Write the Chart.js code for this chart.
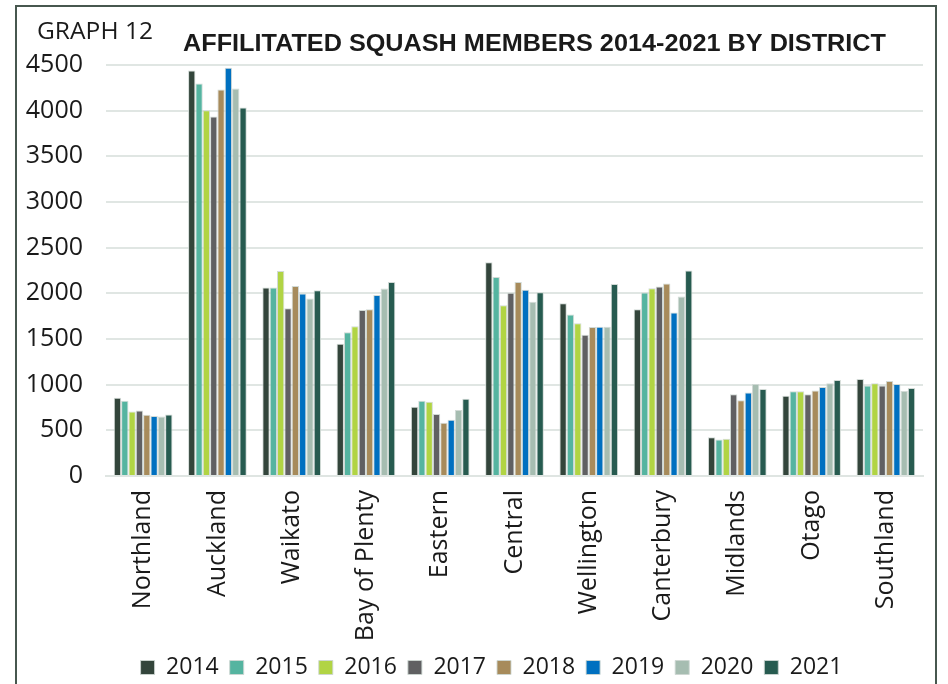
<!DOCTYPE html>
<html>
<head>
<meta charset="utf-8">
<script src="https://cdn.jsdelivr.net/npm/chart.js@4.4.0/dist/chart.umd.min.js"></script>
<style>
  html, body { margin: 0; padding: 0; background: #ffffff; }
  #wrap { position: relative; width: 948px; height: 684px; overflow: hidden; }
  #frame { position: absolute; left: 15px; top: 5px; width: 922px; height: 720px;
           border: 2px solid #47574f; box-sizing: border-box; }
  canvas { position: absolute; left: 0; top: 0; }
</style>
</head>
<body>
<div id="wrap">
  <div id="frame"></div>
  <canvas id="c" width="948" height="684"></canvas>
</div>
<script>
const districts = ["Northland", "Auckland", "Waikato", "Bay of Plenty", "Eastern", "Central",
                   "Wellington", "Canterbury", "Midlands", "Otago", "Southland"];
const years = ["2014", "2015", "2016", "2017", "2018", "2019", "2020", "2021"];
const v2014 = [858, 4441, 2065, 1449, 759, 2340, 1892, 1826, 425, 880, 1063];
const v2015 = [825, 4298, 2065, 1573, 825, 2178, 1767, 2009, 400, 928, 990];
const v2016 = [707, 4004, 2244, 1639, 814, 1870, 1672, 2057, 407, 928, 1016];
const v2017 = [718, 3935, 1837, 1818, 678, 2006, 1547, 2075, 895, 895, 990];
const v2018 = [671, 4232, 2079, 1826, 583, 2123, 1632, 2108, 829, 935, 1041];
const v2019 = [657, 4470, 1999, 1983, 616, 2039, 1635, 1789, 913, 975, 1008];
const v2020 = [652, 4243, 1944, 2054, 722, 1907, 1635, 1965, 1008, 1016, 931];
const v2021 = [674, 4034, 2035, 2123, 847, 2013, 2101, 2251, 953, 1052, 964];
const yTicks = [0, 500, 1000, 1500, 2000, 2500, 3000, 3500, 4000, 4500];
const graphLabel = "GRAPH 12";
const titleText = "AFFILITATED SQUASH MEMBERS 2014-2021 BY DISTRICT";

const seriesValues = [v2014, v2015, v2016, v2017, v2018, v2019, v2020, v2021];
const colors = ["#33453b", "#55b4a0", "#b1d444", "#606062", "#a78b5b", "#0070c0", "#a6bdb1", "#275b50"];

const FONT = "'Open Sans', 'DejaVu Sans', sans-serif";

const titlePlugin = {
  id: 'titles',
  afterLayout(chart) {
    const lg = chart.legend;
    if (lg) { lg.left += 30; lg.right += 30; lg.top += 5; lg.bottom += 5; }
    const xs = chart.scales.x;
    if (xs) { xs.bottom = chart.height; }
  },
  afterDraw(chart) {
    const ctx = chart.ctx;
    ctx.save();
    ctx.fillStyle = '#1a1a1a';
    ctx.textBaseline = 'alphabetic';
    ctx.textAlign = 'left';
    ctx.font = "23px 'Open Sans', 'Liberation Sans', sans-serif";
    const gw = ctx.measureText(graphLabel).width;
    ctx.save();
    ctx.translate(37, 39);
    ctx.scale(116 / gw, 1);
    ctx.fillText(graphLabel, 0, 0);
    ctx.restore();
    ctx.font = "bold 23px 'Liberation Sans', Arial, sans-serif";
    const w = ctx.measureText(titleText).width;
    ctx.translate(183, 51);
    ctx.scale(703 / w, 1);
    ctx.fillText(titleText, 0, 0);
    ctx.restore();
  }
};

new Chart(document.getElementById('c'), {
  type: 'bar',
  data: {
    labels: districts,
    datasets: years.map((y, i) => ({
      label: y,
      data: seriesValues[i],
      backgroundColor: colors[i],
      borderColor: 'rgba(205,214,210,0.9)',
      borderWidth: 1,
      categoryPercentage: 0.79,
      barPercentage: 1.0
    }))
  },
  options: {
    responsive: false,
    animation: false,
    devicePixelRatio: 1,
    layout: { padding: { left: 0, right: 25, top: 65, bottom: 0 } },
    plugins: {
      legend: {
        position: 'bottom',
        labels: {
          font: { family: FONT, size: 23 },
          color: '#1a1a1a',
          boxWidth: 14,
          boxHeight: 14,
          padding: 11
        }
      },
      tooltip: { enabled: false }
    },
    scales: {
      x: {
        grid: { display: false, drawTicks: false },
        border: { display: true, color: '#dfe5e2', width: 2 },
        ticks: {
          font: { family: FONT, size: 25 },
          color: '#1a1a1a',
          minRotation: 90, maxRotation: 90,
          padding: 14,
          autoSkip: false
        },
        afterFit(scale) { scale.height = 164; }
      },
      y: {
        min: 0, max: 4500,
        afterBuildTicks(scale) { scale.ticks = yTicks.map(v => ({ value: v })); },
        grid: { color: '#e0e6e3', lineWidth: 2, drawTicks: false },
        border: { display: false },
        ticks: {
          font: { family: FONT, size: 25 },
          color: '#1a1a1a',
          padding: 23,
          callback: (v) => String(v)
        },
        afterFit(scale) { scale.width = 106; }
      }
    }
  },
  plugins: [titlePlugin]
});
</script>
</body>
</html>
